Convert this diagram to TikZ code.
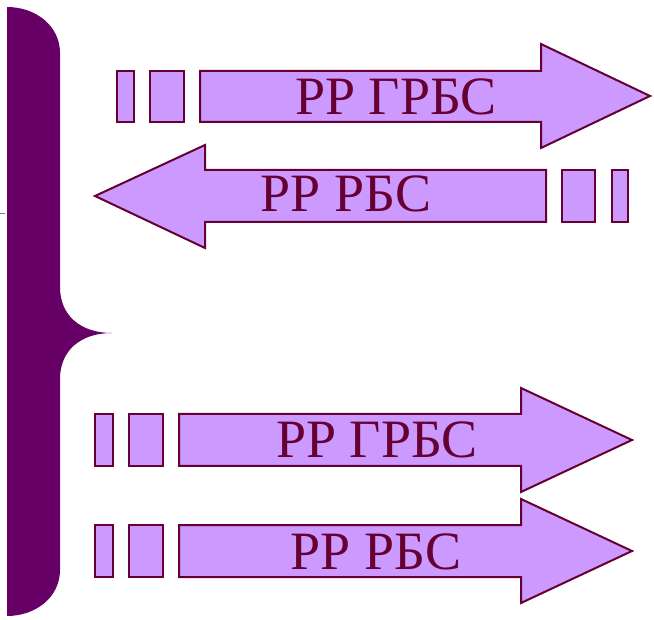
\documentclass[tikz,border=0pt]{standalone}
\usepackage{fontspec}
\setmainfont{Liberation Serif}
\definecolor{lilac}{HTML}{CC99FF}
\definecolor{maroon}{HTML}{660033}
\definecolor{plum}{HTML}{660066}
\tikzset{
  arrowshape/.style={fill=lilac, draw=maroon, line width=2pt, line join=miter},
  tailbox/.style={fill=lilac, draw=maroon, line width=2pt},
  label/.style={text=maroon, font=\fontsize{54}{58}\selectfont, inner sep=0pt, anchor=base}
}
\begin{document}
\begin{tikzpicture}[x=1pt, y=-1pt]
\useasboundingbox (0,0) rectangle (654,620);
% brace
\fill[plum] (7,7) .. controls (36,7) and (60,26) .. (60,53)
  -- (60,287) .. controls (60,315) and (80,333) .. (112,333)
  .. controls (80,333) and (60,351) .. (60,379)
  -- (60,570) .. controls (60,597) and (36,616) .. (7,616) -- cycle;
\draw[gray, line width=1pt] (0,214) -- (5,214);
% arrow 1
\draw[tailbox] (117,71) rectangle (134,122);
\draw[tailbox] (150,71) rectangle (184,122);
\draw[arrowshape] (200,71) -- (541,71) -- (541,44) -- (650,96) -- (541,148) -- (541,122) -- (200,122) -- cycle;
\node[label] (t1) at (396,115) {РР ГРБС};
% arrow 2
\draw[tailbox] (562,170) rectangle (595,222);
\draw[tailbox] (612,170) rectangle (628,222);
\draw[arrowshape] (546,170) -- (205,170) -- (205,145) -- (95,196) -- (205,248) -- (205,222) -- (546,222) -- cycle;
\node[label] (t2) at (346,212) {РР РБС};
% arrow 3
\draw[tailbox] (95,414) rectangle (113,466);
\draw[tailbox] (129,414) rectangle (163,466);
\draw[arrowshape] (179,414) -- (521,414) -- (521,388) -- (632,440) -- (521,492) -- (521,466) -- (179,466) -- cycle;
\node[label] (t3) at (377,458) {РР ГРБС};
% arrow 4
\draw[tailbox] (95,525) rectangle (113,577);
\draw[tailbox] (129,525) rectangle (163,577);
\draw[arrowshape] (179,525) -- (521,525) -- (521,499) -- (632,551) -- (521,603) -- (521,577) -- (179,577) -- cycle;
\node[label] (t4) at (376,569) {РР РБС};
\end{tikzpicture}
\end{document}
